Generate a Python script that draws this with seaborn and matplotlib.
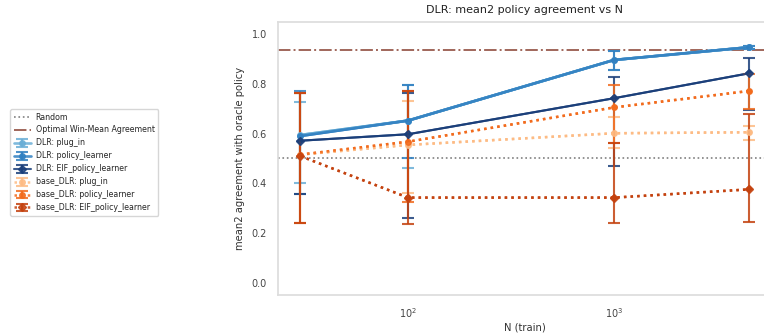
import numpy as np
import pandas as pd
import matplotlib
matplotlib.use("Agg")
import matplotlib.pyplot as plt
import seaborn as sns

# ---- data ----
n_train = [30, 100, 1000, 4500]

series_names = ["DLR: plug_in", "DLR: policy_learner", "DLR: EIF_policy_learner",
                "base_DLR: plug_in", "base_DLR: policy_learner", "base_DLR: EIF_policy_learner"]

dlr_plug_mean = [0.594, 0.652, 0.896, 0.947]
dlr_plug_lo   = [0.402, 0.462, 0.856, 0.940]
dlr_plug_hi   = [0.727, 0.795, 0.932, 0.952]

dlr_pol_mean  = [0.590, 0.652, 0.896, 0.947]
dlr_pol_lo    = [0.357, 0.503, 0.856, 0.940]
dlr_pol_hi    = [0.771, 0.795, 0.932, 0.952]

dlr_eif_mean  = [0.571, 0.597, 0.742, 0.842]
dlr_eif_lo    = [0.357, 0.261, 0.470, 0.694]
dlr_eif_hi    = [0.765, 0.765, 0.829, 0.903]

base_plug_mean = [0.515, 0.554, 0.601, 0.605]
base_plug_lo   = [0.239, 0.362, 0.540, 0.574]
base_plug_hi   = [0.764, 0.731, 0.668, 0.630]

base_pol_mean  = [0.515, 0.567, 0.705, 0.771]
base_pol_lo    = [0.239, 0.326, 0.563, 0.700]
base_pol_hi    = [0.764, 0.771, 0.795, 0.840]

base_eif_mean  = [0.509, 0.342, 0.342, 0.375]
base_eif_lo    = [0.239, 0.235, 0.241, 0.243]
base_eif_hi    = [0.764, 0.771, 0.563, 0.678]

random_level = 0.5
optimal_level = 0.935

means = [dlr_plug_mean, dlr_pol_mean, dlr_eif_mean, base_plug_mean, base_pol_mean, base_eif_mean]
lows = [dlr_plug_lo, dlr_pol_lo, dlr_eif_lo, base_plug_lo, base_pol_lo, base_eif_lo]
highs = [dlr_plug_hi, dlr_pol_hi, dlr_eif_hi, base_plug_hi, base_pol_hi, base_eif_hi]

colors = ["#6aaed6", "#2f7fc1", "#1b3f7a", "#fdbb84", "#f26b1d", "#c4420f"]
styles = ["-", "-", "-", ":", ":", ":"]
markers = ["o", "o", "D", "o", "o", "D"]
widths = [1.9, 1.9, 1.5, 1.8, 1.8, 1.8]

rows = []
for name, m in zip(series_names, means):
    for x, y in zip(n_train, m):
        rows.append({"N": x, "agreement": y, "series": name})
df = pd.DataFrame(rows)

# ---- figure ----
sns.set_theme(style="whitegrid")
plt.rcParams['font.family'] = ['DejaVu Sans']

fig = plt.figure(figsize=(7.64, 3.36), dpi=100)
ax = fig.add_axes([278/764, 41/336, 493/764, 273.3/336])

h_rand = ax.axhline(random_level, color="gray", ls=":", lw=1.2, label="Random")
h_opt = ax.axhline(optimal_level, color="#a0665a", ls="-.", lw=1.4, label="Optimal Win-Mean Agreement")

handles = [h_rand, h_opt]
for i, name in enumerate(series_names):
    m = np.array(means[i]); lo = np.array(lows[i]); hi = np.array(highs[i])
    eb = ax.errorbar(n_train, m, yerr=[m - lo, hi - m], fmt=markers[i], ls=styles[i],
                     color=colors[i], lw=widths[i], ms=4, capsize=4, capthick=1.5,
                     elinewidth=1.5, label=name, alpha=0.85)
    handles.append(eb)
    sub = df[df["series"] == name]
    sns.lineplot(data=sub, x="N", y="agreement", ax=ax, color=colors[i],
                 linestyle=styles[i], lw=widths[i], marker=markers[i], markersize=4,
                 markeredgewidth=0, legend=False)

ax.set_xscale("log")
ax.set_ylim(-0.05, 1.05)
ax.set_yticks([0.0, 0.2, 0.4, 0.6, 0.8, 1.0])
ax.grid(False)
ax.minorticks_off()
ax.set_xlabel("N (train)", fontsize=7.2, color="#333333", labelpad=2)
ax.set_ylabel("mean2 agreement with oracle policy", fontsize=7.2, color="#333333", labelpad=5)
ax.set_title("DLR: mean2 policy agreement vs N", fontsize=8.0, color="#222222", pad=6)
ax.tick_params(labelsize=7, colors="#444444", pad=2)
for s in ax.spines.values():
    s.set_color("#dddddd")

fig.legend(handles=handles, labels=["Random", "Optimal Win-Mean Agreement"] + series_names,
           loc="upper left", bbox_to_anchor=(6/764, 1 - 105/336), fontsize=5.7,
           frameon=True, handlelength=2.2, labelspacing=0.5, borderpad=0.45,
           handletextpad=0.6)

fig.savefig("out.png", dpi=100)
